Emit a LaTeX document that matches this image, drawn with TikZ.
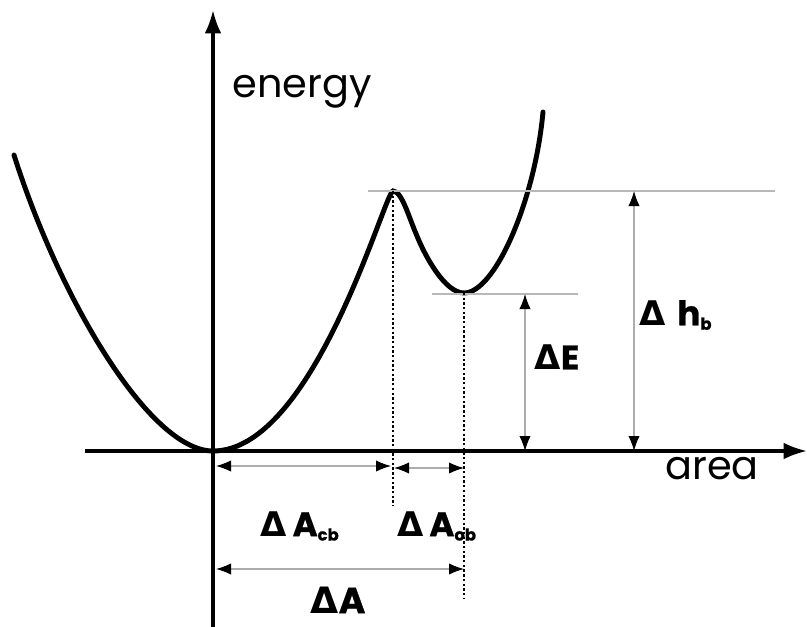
\documentclass[tikz,border=0pt]{standalone}
\usepackage{fontspec}
\setmainfont{Poppins}[BoldFeatures={FakeBold=0.8}]
\newfontfamily\greekfont{DejaVu Sans}
\usetikzlibrary{arrows.meta,positioning,calc}
\newcommand{\dl}{{\greekfont\bfseries\char"0394}}
\newcommand{\sub}[1]{\textsubscript{\fontsize{14}{15}\selectfont #1}}

\begin{document}
\begin{tikzpicture}[
  x=0.3mm,y=-0.3mm,
  axis/.style={line width=2.8pt,-{Latex[length=7mm,width=5mm]}},
  curve/.style={line width=4.2pt,line cap=round},
  guide/.style={draw=black!28,line width=1pt},
  drop/.style={line width=2pt,dash pattern=on 2pt off 2pt},
  dim/.style={draw=black!32,line width=1pt,
    {Latex[length=4.5mm,width=3.4mm,color=black]}-{Latex[length=4.5mm,width=3.4mm,color=black]}},
  axlabel/.style={font=\fontsize{34}{36}\selectfont},
  dimlabel/.style={font=\fontsize{29}{32}\selectfont\bfseries,inner sep=0pt}
]
  \useasboundingbox (0,0) rectangle (807,627);

  \coordinate (origin) at (213,451);
  \coordinate (peak) at (393,191);
  \coordinate (shoulder) at (417,236);
  \coordinate (well) at (464,293);

  % axes
  \draw[axis] (213,627) -- (213,10);
  \draw[axis] (85,451) -- (807,451);
  \node[axlabel] (energy) at (302,92) {energy};
  \node[axlabel] (area) at (712,469) {area};

  % energy curve
  \draw[curve] (14,155) .. controls (60,300) and (150,451) .. (origin)
    .. controls (314,451) and (385,191) .. (peak)
    .. controls (402,191) and (409,218) .. (shoulder)
    .. controls (425,256) and (445,293) .. (well)
    .. controls (495,293) and (535,200) .. (543,112);

  % guide lines
  \coordinate (peakend) at (775,191);
  \coordinate (wellend) at (578,294);
  \draw[guide] (368,191) -- (peakend);
  \draw[guide] (432,294) -- (wellend);
  \coordinate (peakfoot) at (393,506);
  \coordinate (wellfoot) at (464,598);
  \draw[drop] (peak) -- (peakfoot);
  \draw[drop] (well) -- (wellfoot);

  % heights
  \coordinate (eTop) at (525,294);
  \coordinate (eBot) at (525,451);
  \coordinate (hTop) at (634,191);
  \coordinate (hBot) at (634,451);
  \draw[dim] (eTop) -- (eBot);
  \draw[dim] (hTop) -- (hBot);
  \node[dimlabel] (dE) at (557,357) {\dl E};
  \node[dimlabel] (dh) at (676,315) {\dl\,\,h\sub{b}};

  % widths
  \coordinate (cbL) at (216,466);
  \coordinate (cbR) at (391,466);
  \coordinate (obL) at (394,468);
  \coordinate (obR) at (464,468);
  \coordinate (aL) at (216,569);
  \coordinate (aR) at (464,569);
  \draw[dim] (cbL) -- (cbR);
  \draw[dim] (obL) -- (obR);
  \draw[dim] (aL) -- (aR);
  \node[dimlabel] (dAcb) at (300,526) {\dl\,A\sub{cb}};
  \node[dimlabel] (dAob) at (437,526) {\dl\,A\sub{ob}};
  \node[dimlabel,font=\fontsize{31}{33}\selectfont\bfseries] (dA) at (338,600) {\dl A};
\end{tikzpicture}
\end{document}
